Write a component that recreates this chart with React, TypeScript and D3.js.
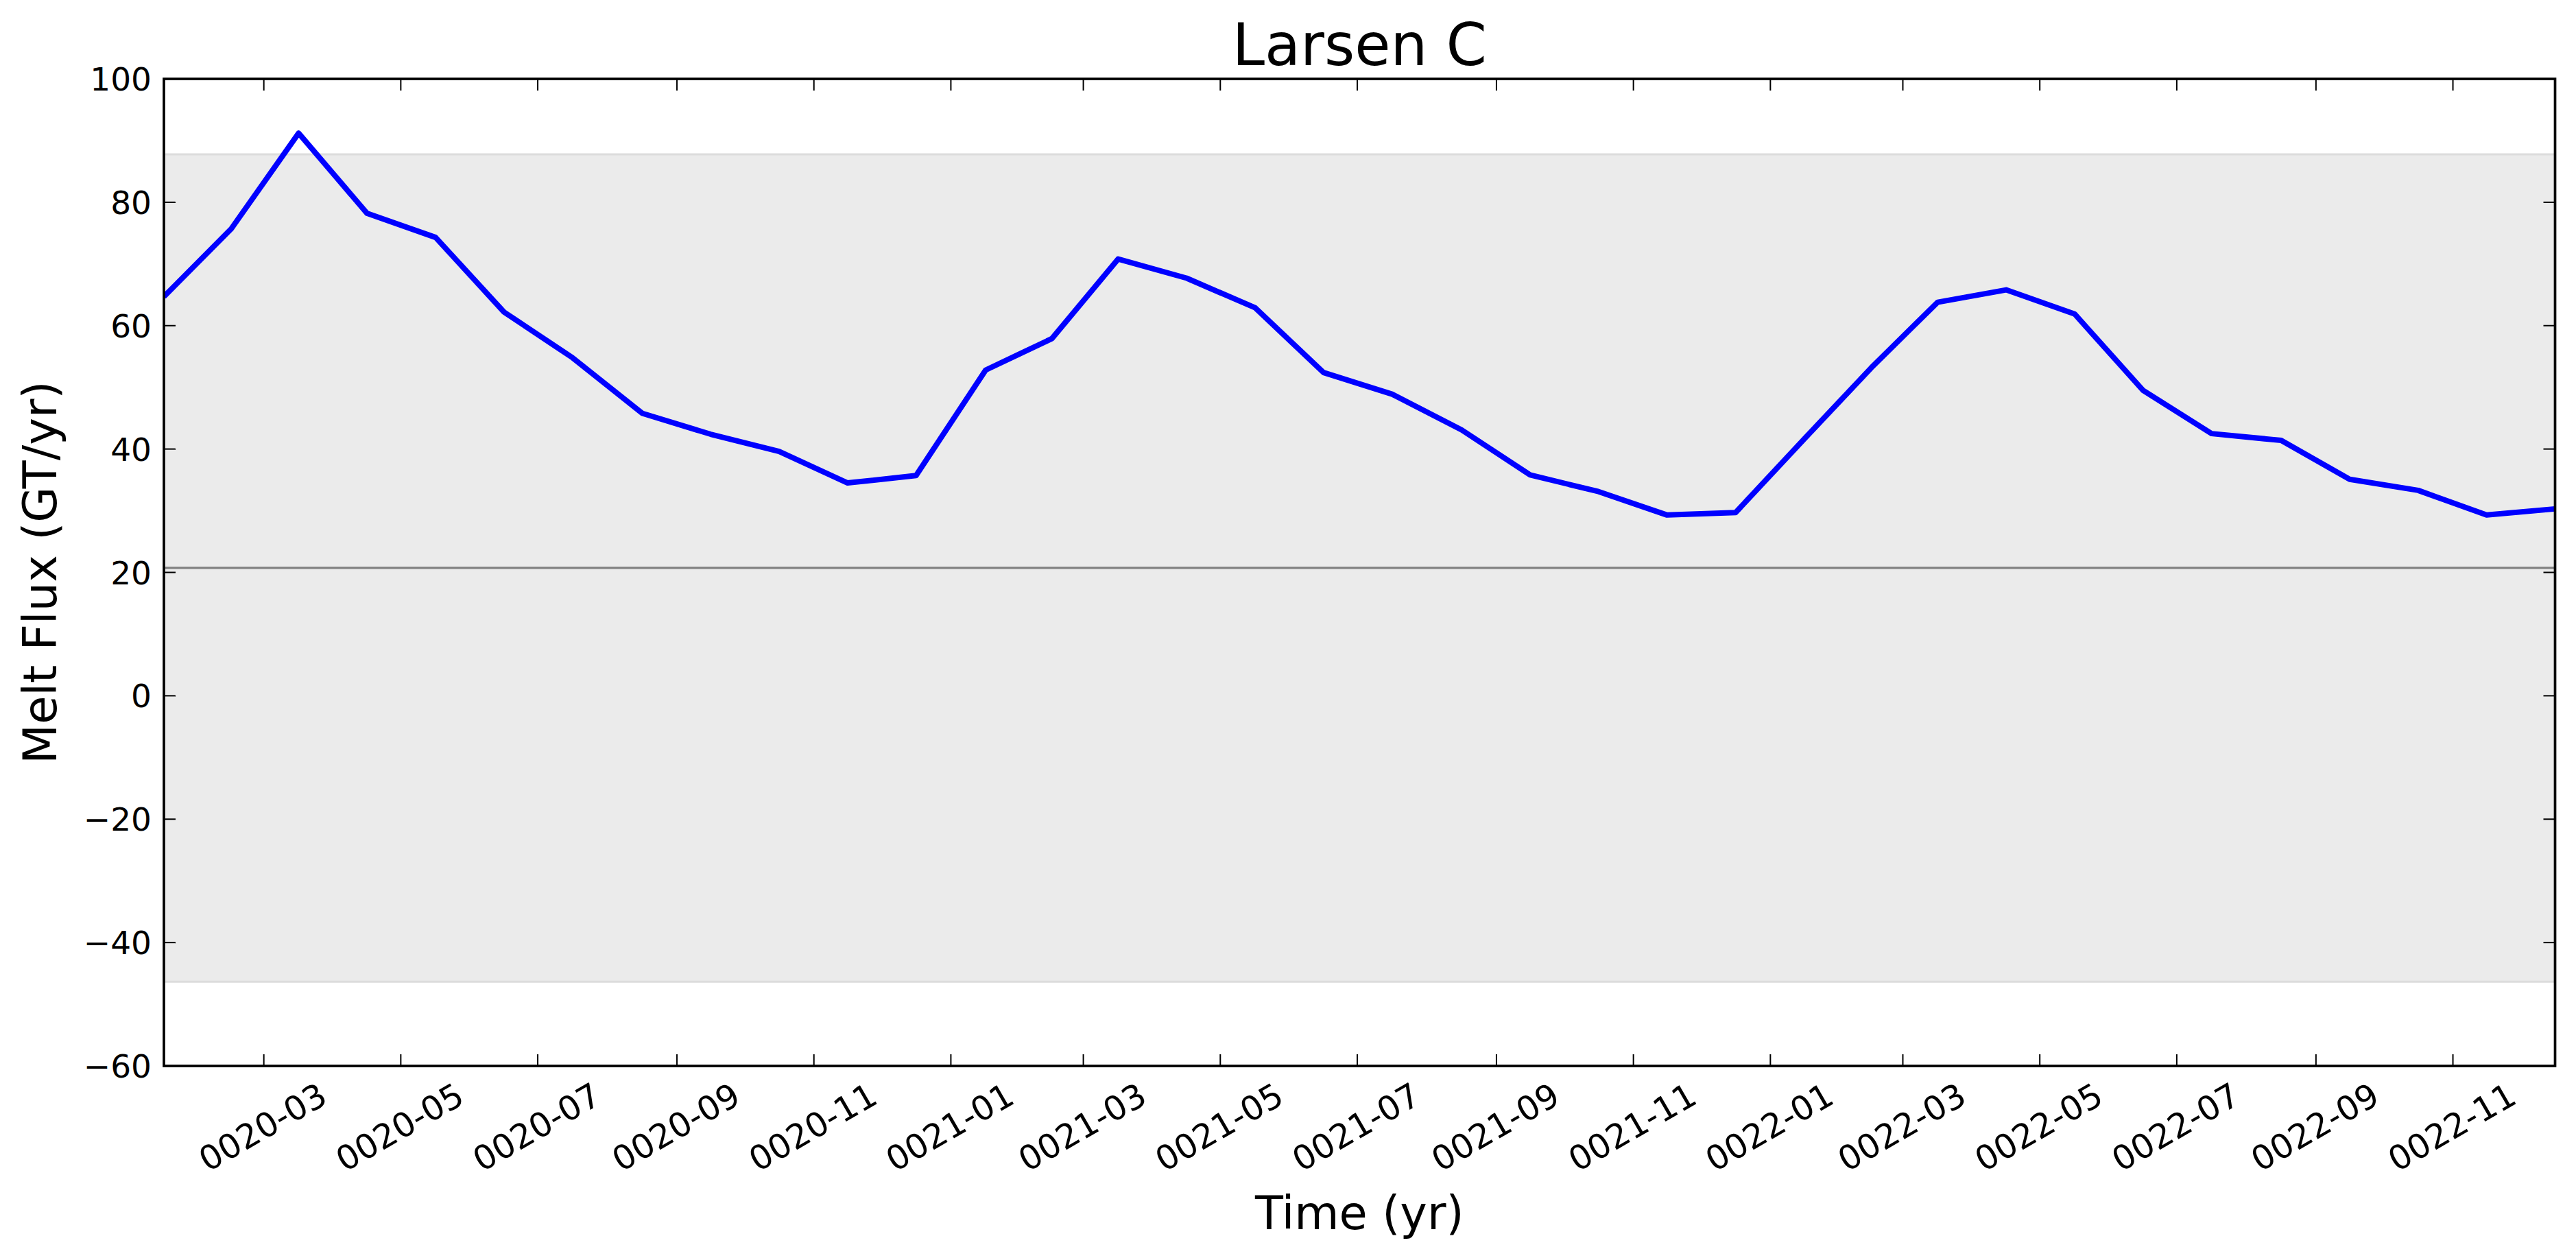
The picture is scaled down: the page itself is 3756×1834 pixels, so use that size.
import React from 'react';
import * as d3 from 'd3';

// ---- data ----
const years = [20, 21, 22];
const melt0020 = [64.7, 75.7, 91.2, 78.2, 74.3, 62.2, 54.8, 45.8, 42.4, 39.6, 34.5, 35.7];
const melt0021 = [52.8, 57.9, 70.8, 67.7, 62.9, 52.4, 48.9, 43.1, 35.8, 33.1, 29.3, 29.7];
const melt0022 = [41.8, 53.2, 63.8, 65.8, 61.9, 49.5, 42.5, 41.4, 35.1, 33.3, 29.3, 30.3];
const meltByYear = [melt0020, melt0021, melt0022];
const referenceFlux = 20.73;
const bandRange = [-46.35, 87.76];
const yTickValues = [-60, -40, -20, 0, 20, 40, 60, 80, 100];
const yDomain = [-60, 100];

const title = 'Larsen C';
const xLabel = 'Time (yr)';
const yLabel = 'Melt Flux (GT/yr)';

// ---- layout ----
const W = 3756;
const H = 1834;
const plot = { left: 239, right: 3725.5, top: 115, bottom: 1554 };
const FONT = "'DejaVu Sans', 'Liberation Sans', sans-serif";
const tickLen = 17;

export default function App() {
  const parse = d3.utcParse('%Y-%m');
  const points: { date: Date; value: number }[] = [];
  years.forEach((yr, i) => {
    meltByYear[i].forEach((v, m) => {
      const s = parse(`${String(yr).padStart(4, '0')}-${String(m + 1).padStart(2, '0')}`) as Date;
      const e = d3.utcMonth.offset(s, 1);
      points.push({ date: new Date((+s + +e) / 2), value: v });
    });
  });

  const x = d3
    .scaleUtc()
    .domain([points[0].date, points[points.length - 1].date])
    .range([plot.left, plot.right]);
  const y = d3.scaleLinear().domain(yDomain).range([plot.bottom, plot.top]);

  const xTicks = x.ticks(d3.utcMonth.every(2) as any);
  const fmt = d3.utcFormat('%Y-%m');

  const line = d3
    .line<{ date: Date; value: number }>()
    .x((d) => x(d.date))
    .y((d) => y(d.value));

  const pw = plot.right - plot.left;
  const ph = plot.bottom - plot.top;
  const xLabelY = 1642.5;

  return (
    <svg
      width={W}
      height={H}
      viewBox={`0 0 ${W} ${H}`}
      style={{ position: 'absolute', left: 0, top: 0, background: '#fff' }}
      fontFamily={FONT}
    >
      <rect x={0} y={0} width={W} height={H} fill="#fff" />
      <defs>
        <clipPath id="plotclip">
          <rect x={plot.left} y={plot.top} width={pw} height={ph} />
        </clipPath>
      </defs>

      {/* shaded band */}
      <g clipPath="url(#plotclip)">
        <rect
          x={plot.left}
          y={y(bandRange[1])}
          width={pw}
          height={y(bandRange[0]) - y(bandRange[1])}
          fill="#ebebeb"
        />
        <line x1={plot.left} x2={plot.right} y1={y(bandRange[1])} y2={y(bandRange[1])} stroke="#dcdcdc" strokeWidth={3} />
        <line x1={plot.left} x2={plot.right} y1={y(bandRange[0])} y2={y(bandRange[0])} stroke="#dcdcdc" strokeWidth={3} />
        {/* reference line */}
        <line
          x1={plot.left}
          x2={plot.right}
          y1={y(referenceFlux)}
          y2={y(referenceFlux)}
          stroke="#808080"
          strokeWidth={3.3}
        />
        {/* data line */}
        <path d={line(points) || ''} fill="none" stroke="#0000ff" strokeWidth={8} strokeLinejoin="round" />
      </g>

      {/* ticks */}
      {xTicks.map((t, i) => (
        <g key={`xt${i}`}>
          <line x1={x(t)} x2={x(t)} y1={plot.bottom} y2={plot.bottom - tickLen} stroke="#000" strokeWidth={2} />
          <line x1={x(t)} x2={x(t)} y1={plot.top} y2={plot.top + tickLen} stroke="#000" strokeWidth={2} />
          <text
            x={x(t) - 2}
            y={xLabelY + 18}
            textAnchor="middle"
            fontSize={49}
            fill="#000"
            transform={`rotate(-30, ${x(t) - 2}, ${xLabelY})`}
          >
            {fmt(t)}
          </text>
        </g>
      ))}
      {yTickValues.map((v, i) => (
        <g key={`yt${i}`}>
          <line x1={plot.left} x2={plot.left + tickLen} y1={y(v)} y2={y(v)} stroke="#000" strokeWidth={2} />
          <line x1={plot.right} x2={plot.right - tickLen} y1={y(v)} y2={y(v)} stroke="#000" strokeWidth={2} />
          <text x={221} y={y(v) + 17} textAnchor="end" fontSize={47} fill="#000">
            {v < 0 ? `\u2212${Math.abs(v)}` : `${v}`}
          </text>
        </g>
      ))}

      {/* frame */}
      <rect x={plot.left} y={plot.top} width={pw} height={ph} fill="none" stroke="#000" strokeWidth={3.7} />

      {/* titles */}
      <text x={(plot.left + plot.right) / 2} y={95} textAnchor="middle" fontSize={85} fill="#000">
        {title}
      </text>
      <text x={(plot.left + plot.right) / 2} y={1792} textAnchor="middle" fontSize={67} fill="#000">
        {xLabel}
      </text>
      <text
        x={82}
        y={(plot.top + plot.bottom) / 2}
        textAnchor="middle"
        fontSize={67}
        fill="#000"
        transform={`rotate(-90, 82, ${(plot.top + plot.bottom) / 2})`}
      >
        {yLabel}
      </text>
    </svg>
  );
}
